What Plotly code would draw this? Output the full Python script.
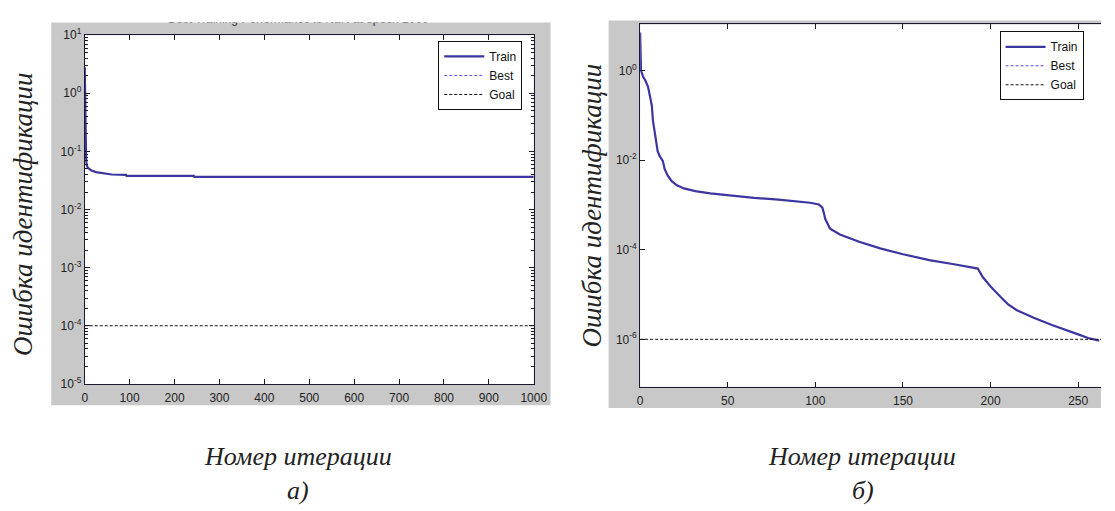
import plotly.graph_objects as go

W, H = 1115, 511

# ---------------- data ----------------
# panel a)
epochs_a = [0, 1, 2, 3, 4, 6, 10, 15, 25, 40, 60, 92, 93, 243, 244, 1000]
train_a = [2.8, 0.45, 0.12, 0.08, 0.06, 0.054, 0.05, 0.047, 0.044, 0.042, 0.040,
           0.0395, 0.038, 0.038, 0.0365, 0.0365]
goal_a = 1e-4
title_a = "Best Training Performance is NaN at epoch 1000"

# panel b)
epochs_b = [0, 0.5, 1, 1.7, 3, 4.5, 5.5, 6.7, 7.3, 8.8, 10, 11, 13, 14, 15.7, 18, 21,
            25, 31.5, 40, 54, 65, 79, 90, 97, 102, 104, 105, 105.6, 108.4, 114, 125,
            137, 150, 165, 180, 192.7, 195.5, 200, 205.6, 210, 215, 224.6, 235, 243,
            250, 255.6, 262]
log_train_b = [0.85, 0.0, -0.05, -0.14, -0.22, -0.36, -0.55, -0.79, -1.11, -1.5, -1.8,
               -1.9, -2.02, -2.2, -2.34, -2.47, -2.56, -2.63, -2.69, -2.74, -2.80,
               -2.84, -2.88, -2.92, -2.95, -2.99, -3.06, -3.2, -3.31, -3.53, -3.66,
               -3.82, -3.97, -4.10, -4.23, -4.33, -4.42, -4.61, -4.82, -5.05, -5.22,
               -5.35, -5.52, -5.68, -5.80, -5.89, -5.97, -6.03]
train_b = [10 ** v for v in log_train_b]
goal_b = 1e-6

x_ticks_a = [0, 100, 200, 300, 400, 500, 600, 700, 800, 900, 1000]
y_exps_a = [-5, -4, -3, -2, -1, 0, 1]
x_ticks_b = [0, 50, 100, 150, 200, 250]
y_exps_b = [-6, -4, -2, 0]

ylabel = "Ошибка идентификации"
xlabel = "Номер итерации"
sub_a, sub_b = "а)", "б)"

# ---------------- style ----------------
TRAIN_C = "#3d35a0"
BEST_C = "#5a50d8"
GRAY = "#c8c8c8"
AX_C = "#1a1a2e"
TICK_FONT = dict(family="Liberation Sans, Arial", size=12, color="#222222")
SERIF_Y = dict(family="Liberation Serif, Times New Roman, serif", size=27, color="#222222")
SERIF_X = dict(family="Liberation Serif, Times New Roman, serif", size=26, color="#222222")
LEG_FONT = dict(family="Liberation Sans, Arial", size=12, color="#111111")


def px(x):
    return x / W


def py(y):
    return 1 - y / H


fig = go.Figure()

# panel a traces
fig.add_trace(go.Scatter(x=epochs_a, y=train_a, mode="lines", name="Train",
                         line=dict(color=TRAIN_C, width=2.2), xaxis="x", yaxis="y",
                         legend="legend"))
fig.add_trace(go.Scatter(x=[None], y=[None], mode="lines", name="Best",
                         line=dict(color=BEST_C, width=1, dash="3px,2px"), xaxis="x",
                         yaxis="y", legend="legend"))
fig.add_trace(go.Scatter(x=[epochs_a[0], epochs_a[-1]], y=[goal_a, goal_a], mode="lines",
                         name="Goal", line=dict(color="#111111", width=1, dash="3px,2px"),
                         xaxis="x", yaxis="y", legend="legend"))

# panel b traces
fig.add_trace(go.Scatter(x=epochs_b, y=train_b, mode="lines", name="Train",
                         line=dict(color=TRAIN_C, width=2.2), xaxis="x2", yaxis="y2",
                         legend="legend2"))
fig.add_trace(go.Scatter(x=[None], y=[None], mode="lines", name="Best",
                         line=dict(color=BEST_C, width=1, dash="3px,2px"), xaxis="x2",
                         yaxis="y2", legend="legend2"))
fig.add_trace(go.Scatter(x=[0, 300], y=[goal_b, goal_b], mode="lines", name="Goal",
                         line=dict(color="#111111", width=1, dash="3px,2px"),
                         xaxis="x2", yaxis="y2", legend="legend2"))

# clipped title of panel a (only lower part visible, as in the source)
fig.add_trace(go.Scatter(x=[0.495], y=[1.006], mode="text", text=[title_a],
                         textfont=dict(family="Liberation Sans, Arial", size=12,
                                       color="#333333"),
                         textposition="middle center", cliponaxis=True, showlegend=False,
                         hoverinfo="skip", xaxis="x3", yaxis="y3"))


def minor_vals(e0, e1):
    return [m * 10 ** e for e in range(e0, e1) for m in range(2, 10)]


def sup(e):
    return "10<sup>" + str(e) + "</sup>"


common_x = dict(showgrid=False, zeroline=False, showline=True, linecolor=AX_C, linewidth=1,
                ticks="inside", ticklen=5, tickcolor=AX_C, tickfont=TICK_FONT,
                ticklabelstandoff=3)
common_y = dict(showgrid=False, zeroline=False, showline=True, linecolor=AX_C, linewidth=1,
                ticks="inside", ticklen=5, tickcolor=AX_C, tickfont=TICK_FONT, type="log")

fig.update_layout(
    width=W, height=H,
    margin=dict(l=0, r=0, t=0, b=0),
    paper_bgcolor="white",
    plot_bgcolor="rgba(0,0,0,0)",
    xaxis=dict(domain=[px(83), px(539)], range=[0, 1000], tickmode="array",
               tickvals=x_ticks_a, mirror="ticks", anchor="y", **common_x),
    yaxis=dict(domain=[py(387), py(27)], range=[-5, 1], tickmode="array",
               tickvals=[10 ** e for e in y_exps_a], ticktext=[sup(e) for e in y_exps_a],
               mirror="ticks", anchor="x",
               minor=dict(ticks="inside", ticklen=3, tickcolor=AX_C, tickmode="array",
                          tickvals=minor_vals(-5, 1), showgrid=False),
               **common_y),
    xaxis2=dict(domain=[px(647), 1.0], range=[0, 263], tickmode="array",
                tickvals=x_ticks_b, mirror="ticks", anchor="y2", **common_x),
    yaxis2=dict(domain=[py(390), py(16)], range=[-7.06, 1.03], tickmode="array",
                tickvals=[10 ** e for e in y_exps_b], ticktext=[sup(e) for e in y_exps_b],
                mirror=False, anchor="x2", **common_y),
    xaxis3=dict(domain=[px(49), px(556)], range=[0, 1], visible=False, anchor="y3"),
    yaxis3=dict(domain=[py(409), py(14)], range=[0, 1], visible=False, anchor="x3"),
    legend=dict(x=px(442), y=py(33), xanchor="left", yanchor="top", bgcolor="white",
                bordercolor="#111111", borderwidth=1, font=LEG_FONT,
                tracegroupgap=0, itemwidth=40),
    legend2=dict(x=px(1012), y=py(23), xanchor="left", yanchor="top", bgcolor="white",
                 bordercolor="#111111", borderwidth=1, font=LEG_FONT,
                 tracegroupgap=0, itemwidth=40),
    showlegend=True,
)

# gray figure backgrounds and white axes areas
fig.add_shape(type="rect", xref="paper", yref="paper", x0=px(49), x1=px(556),
              y0=py(409), y1=py(14), fillcolor=GRAY, line_width=0, layer="below")
fig.add_shape(type="rect", xref="paper", yref="paper", x0=px(615), x1=1.0,
              y0=py(412), y1=py(12), fillcolor=GRAY, line_width=0, layer="below")
fig.add_shape(type="rect", xref="x domain", yref="y domain", x0=0, x1=1, y0=0, y1=1,
              fillcolor="white", line_width=0, layer="below")
fig.add_shape(type="rect", xref="x2 domain", yref="y2 domain", x0=0, x1=1, y0=0, y1=1,
              fillcolor="white", line_width=0, layer="below")

# text labels
for cx, cy in [(21, 212), (598, 203)]:
    fig.add_annotation(text="<i>" + ylabel + "</i>", x=px(cx), y=py(cy), xref="paper",
                       yref="paper", showarrow=False, textangle=-90, font=SERIF_Y,
                       xanchor="center", yanchor="middle")
for cx in [300, 872]:
    fig.add_annotation(text="<i>" + xlabel + "</i>", x=px(cx), y=py(462), xref="paper",
                       yref="paper", showarrow=False, font=SERIF_X, xanchor="center",
                       yanchor="middle")
for cx, s in [(300, sub_a), (873, sub_b)]:
    fig.add_annotation(text="<i>" + s + "</i>", x=px(cx), y=py(497), xref="paper",
                       yref="paper", showarrow=False, font=SERIF_X, xanchor="center",
                       yanchor="middle")

fig.write_html("out.html", config={"displayModeBar": False},
               post_script="document.body.style.margin='0';document.body.style.padding='0';")
